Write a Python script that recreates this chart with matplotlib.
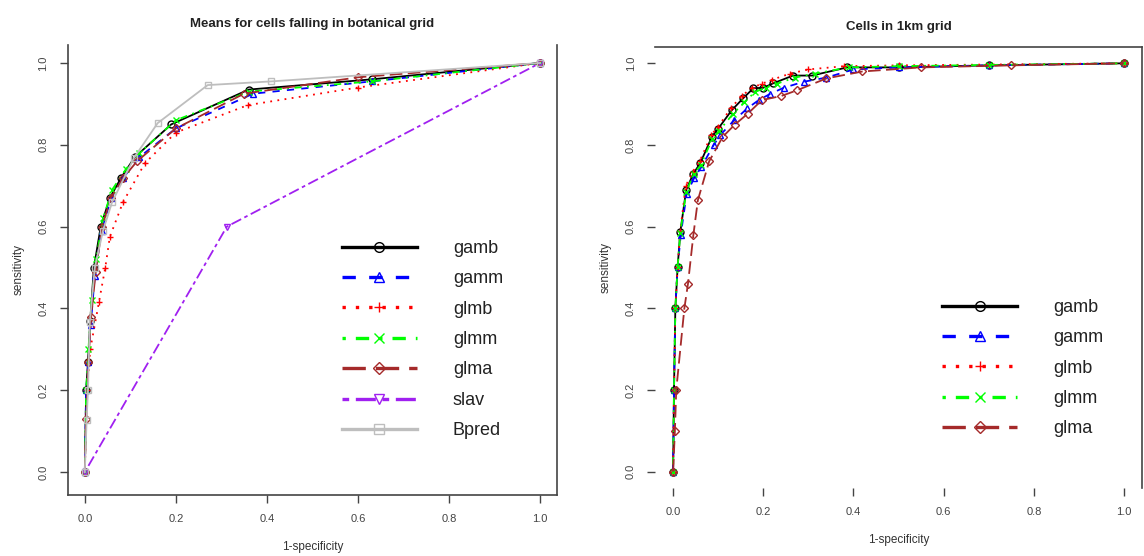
import matplotlib
matplotlib.use("Agg")
import matplotlib.pyplot as plt

plt.rcParams["font.family"] = ["Liberation Sans", "DejaVu Sans"]

# ---- left panel: means for cells falling in botanical grid ----
gamb_x = [0, 0.003, 0.007, 0.012, 0.02, 0.035, 0.055, 0.08, 0.11, 0.19, 0.36, 0.63, 1.0]
gamb_y = [0, 0.20, 0.27, 0.37, 0.50, 0.60, 0.67, 0.72, 0.77, 0.85, 0.935, 0.96, 1.0]
gamm_x = [0, 0.003, 0.008, 0.013, 0.022, 0.037, 0.058, 0.085, 0.12, 0.2, 0.37, 0.63, 1.0]
gamm_y = [0, 0.20, 0.27, 0.36, 0.48, 0.59, 0.67, 0.72, 0.77, 0.84, 0.925, 0.955, 1.0]
glmb_x = [0, 0.005, 0.012, 0.031, 0.045, 0.055, 0.084, 0.132, 0.2, 0.358, 0.6, 1.0]
glmb_y = [0, 0.20, 0.30, 0.415, 0.50, 0.575, 0.66, 0.755, 0.83, 0.897, 0.94, 1.0]
glmm_x = [0, 0.003, 0.008, 0.015, 0.025, 0.04, 0.06, 0.09, 0.12, 0.2, 0.36, 0.63, 1.0]
glmm_y = [0, 0.20, 0.30, 0.42, 0.52, 0.62, 0.69, 0.74, 0.78, 0.86, 0.93, 0.955, 1.0]
glma_x = [0, 0.003, 0.008, 0.014, 0.024, 0.038, 0.057, 0.085, 0.115, 0.2, 0.35, 0.6, 1.0]
glma_y = [0, 0.13, 0.27, 0.38, 0.49, 0.60, 0.67, 0.72, 0.76, 0.84, 0.925, 0.965, 1.0]
slav_x = [0, 0.312, 1.0]
slav_y = [0, 0.60, 1.0]
bpred_x = [0, 0.004, 0.007, 0.011, 0.022, 0.04, 0.06, 0.108, 0.16, 0.27, 0.41, 1.0]
bpred_y = [0, 0.127, 0.20, 0.367, 0.50, 0.59, 0.66, 0.768, 0.853, 0.946, 0.955, 1.0]

# ---- right panel: cells in 1km grid ----
r_gamb_x = [0, 0.002, 0.005, 0.01, 0.016, 0.029, 0.045, 0.06, 0.086, 0.10, 0.13, 0.155,
            0.178, 0.2, 0.222, 0.266, 0.308, 0.386, 0.5, 0.7, 1.0]
r_gamb_y = [0, 0.2, 0.4, 0.5, 0.587, 0.69, 0.73, 0.755, 0.82, 0.84, 0.885, 0.914,
            0.939, 0.94, 0.951, 0.97, 0.97, 0.99, 0.99, 0.995, 1.0]
r_gamm_x = [0, 0.002, 0.005, 0.01, 0.017, 0.03, 0.047, 0.062, 0.09, 0.105, 0.135, 0.165,
            0.19, 0.215, 0.245, 0.29, 0.34, 0.4, 0.5, 0.7, 1.0]
r_gamm_y = [0, 0.2, 0.4, 0.5, 0.58, 0.68, 0.72, 0.745, 0.80, 0.825, 0.86, 0.89,
            0.91, 0.925, 0.94, 0.955, 0.965, 0.985, 0.99, 0.995, 1.0]
r_glmb_x = [0, 0.002, 0.005, 0.01, 0.016, 0.028, 0.044, 0.059, 0.085, 0.10, 0.128, 0.152,
            0.175, 0.197, 0.22, 0.26, 0.3, 0.38, 0.5, 0.7, 1.0]
r_glmb_y = [0, 0.2, 0.4, 0.5, 0.59, 0.70, 0.735, 0.76, 0.825, 0.845, 0.89, 0.92,
            0.94, 0.95, 0.96, 0.975, 0.985, 0.993, 0.995, 0.997, 1.0]
r_glmm_x = [0, 0.002, 0.005, 0.01, 0.016, 0.029, 0.046, 0.061, 0.087, 0.102, 0.132, 0.158,
            0.182, 0.205, 0.23, 0.27, 0.315, 0.39, 0.5, 0.7, 1.0]
r_glmm_y = [0, 0.2, 0.4, 0.5, 0.585, 0.685, 0.73, 0.75, 0.815, 0.835, 0.875, 0.905,
            0.93, 0.94, 0.95, 0.965, 0.975, 0.99, 0.993, 0.996, 1.0]
r_glma_x = [0, 0.004, 0.007, 0.025, 0.033, 0.045, 0.055, 0.08, 0.11, 0.137, 0.166, 0.197,
            0.24, 0.275, 0.34, 0.42, 0.55, 0.75, 1.0]
r_glma_y = [0, 0.1, 0.2, 0.4, 0.46, 0.58, 0.665, 0.76, 0.82, 0.85, 0.877, 0.91,
            0.92, 0.934, 0.963, 0.98, 0.99, 0.995, 1.0]

x_ticks = [0.0, 0.2, 0.4, 0.6, 0.8, 1.0]
y_ticks = [0.0, 0.2, 0.4, 0.6, 0.8, 1.0]

styles = {
    "gamb": dict(color="black", linestyle="-", marker="o"),
    "gamm": dict(color="#0000FF", linestyle=(0, (4, 4)), marker="^"),
    "glmb": dict(color="#FF0000", linestyle=(0, (1, 3)), marker="+"),
    "glmm": dict(color="#00FF00", linestyle=(0, (1, 3, 4, 3)), marker="x"),
    "glma": dict(color="#A52A2A", linestyle=(0, (7, 3)), marker="D"),
    "slav": dict(color="#A020F0", linestyle=(0, (2, 2, 6, 2)), marker="v"),
    "Bpred": dict(color="#BEBEBE", linestyle="-", marker="s"),
}


def draw(ax, name, x, y):
    st = styles[name]
    filled = st["marker"] in ("+", "x")
    ax.plot(x, y, color=st["color"], linestyle=st["linestyle"], linewidth=1.3,
            marker=st["marker"], markersize=5 if st["marker"] != "D" else 4,
            markerfacecolor=st["color"] if filled else "none",
            markeredgecolor=st["color"], markeredgewidth=1.0, label=name)


def style_axes(ax, title, title_pad):
    ax.set_xticks(x_ticks)
    ax.set_yticks(y_ticks)
    ax.set_xticklabels([f"{v:.1f}" for v in x_ticks])
    ax.set_yticklabels([f"{v:.1f}" for v in y_ticks], rotation=90, va="center")
    ax.tick_params(direction="out", length=6, width=1, colors="#444444",
                   labelsize=8, pad=8)
    ax.set_title(title, fontsize=9.5, fontweight="bold", color="#222222",
                 pad=title_pad)
    ax.set_xlabel("1-specificity", fontsize=8.5, color="#333333", labelpad=12)
    ax.set_ylabel("sensitivity", fontsize=8.5, color="#333333", labelpad=10)
    for sp in ax.spines.values():
        sp.set_color("#444444")
        sp.set_linewidth(1.2)


def add_legend(fig, ax, anchor):
    leg = ax.legend(loc="upper left", bbox_to_anchor=anchor,
                    bbox_transform=fig.transFigure, frameon=False, fontsize=13,
                    handlelength=4.15, handletextpad=2.0, labelspacing=0.74,
                    borderpad=0, numpoints=1)
    for line in leg.get_lines():
        line.set_linewidth(2.4)
        line.set_markersize(7 if line.get_marker() != "D" else 6)
    for txt in leg.get_texts():
        txt.set_color("#222222")


fig = plt.figure(figsize=(11.44, 5.56), dpi=100)

ax1 = fig.add_axes([0.0594, 0.1097, 0.4274, 0.8094])
draw(ax1, "gamb", gamb_x, gamb_y)
draw(ax1, "gamm", gamm_x, gamm_y)
draw(ax1, "glmb", glmb_x, glmb_y)
draw(ax1, "glmm", glmm_x, glmm_y)
draw(ax1, "glma", glma_x, glma_y)
draw(ax1, "slav", slav_x, slav_y)
draw(ax1, "Bpred", bpred_x, bpred_y)
ax1.set_xlim(-0.037, 1.037)
ax1.set_ylim(-0.056, 1.044)
style_axes(ax1, "Means for cells falling in botanical grid", 13)
ax1.spines["top"].set_visible(False)
add_legend(fig, ax1, (0.291, 0.5845))

ax2 = fig.add_axes([0.5726, 0.1223, 0.4257, 0.7932])
draw(ax2, "gamb", r_gamb_x, r_gamb_y)
draw(ax2, "gamm", r_gamm_x, r_gamm_y)
draw(ax2, "glmb", r_glmb_x, r_glmb_y)
draw(ax2, "glmm", r_glmm_x, r_glmm_y)
draw(ax2, "glma", r_glma_x, r_glma_y)
ax2.set_xlim(-0.04, 1.04)
ax2.set_ylim(-0.04, 1.04)
style_axes(ax2, "Cells in 1km grid", 12)
ax2.spines["left"].set_visible(False)
ax2.spines["bottom"].set_visible(False)
add_legend(fig, ax2, (0.8156, 0.4784))

fig.savefig("out.png", dpi=100, facecolor="white")
